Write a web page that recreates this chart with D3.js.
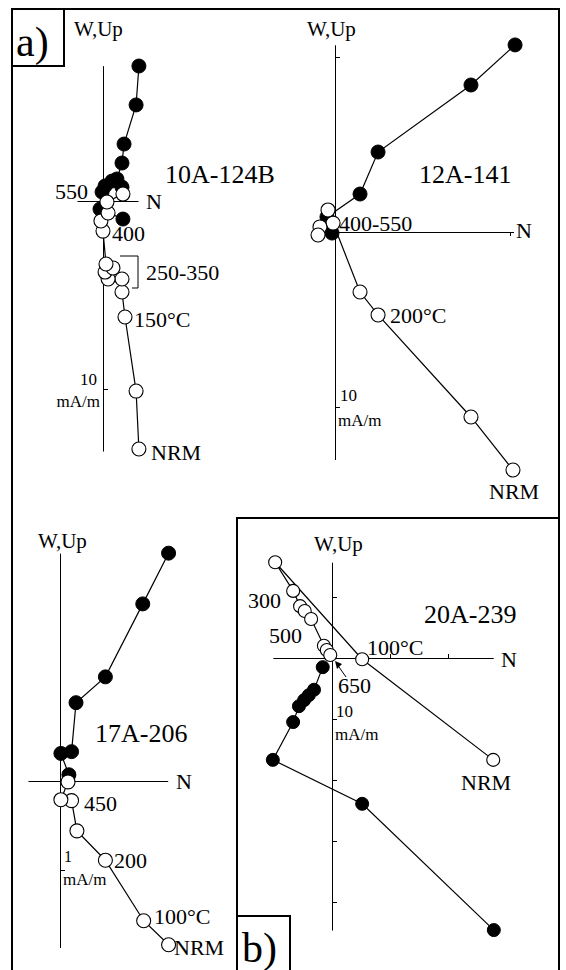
<!DOCTYPE html>
<html>
<head>
<meta charset="utf-8">
<script src="https://d3js.org/d3.v7.min.js"></script>
<style>
  body {margin: 0; background: #fff;}
  svg text {font-family: "Liberation Serif", "DejaVu Serif", serif; fill: #000;}
  .axis path, .axis line {stroke: #000; stroke-width: 1;}
</style>
</head>
<body>
<svg id="fig" width="566" height="970"></svg>
<script>
// ---- data (units: mA/m, x = N, y = W/Up) ----
// 10A-124B
var s1Solid = [[1.91,7.18],[1.76,5.11],[1.12,3.03],[1.01,2.02],[0.74,1.17],[0.48,1.06],[1.01,0.74],[0.11,0.80],[-0.05,0.48],[-0.16,-0.43],[1.06,-0.96]];
var s1Open  = [[1.91,-13.19],[1.76,-10.11],[1.17,-6.17],[1.01,-4.84],[1.01,-4.15],[0.27,-4.15],[0.11,-3.78],[0.53,-3.56],[0.16,-3.35],[0.0,-1.60],[-0.11,-1.06],[0.27,-0.64],[0.21,-0.05],[1.06,0.37]];
// 12A-141
var s2Solid = [[10.29,10.69],[7.77,8.40],[2.46,4.57],[1.43,2.17],[-0.46,0.86],[-0.17,-0.06]];
var s2Open  = [[10.17,-13.60],[7.77,-10.57],[2.46,-4.74],[1.43,-3.43],[-0.11,0.51],[-0.40,1.26],[-0.86,0.29],[-0.97,-0.17]];
// 17A-206
var s3Solid = [[1.22,2.56],[0.93,1.99],[0.51,1.17],[0.18,0.88],[0.13,0.33],[0.01,0.31],[0.10,0.07]];
var s3Open  = [[1.22,-1.84],[0.94,-1.57],[0.51,-0.89],[0.19,-0.56],[0.13,-0.22],[0.01,-0.21],[0.09,-0.01]];
// 20A-239
var s4Solid = [[27.9,-44.6],[5.2,-23.9],[-10.2,-16.7],[-6.7,-10.5],[-5.7,-7.9],[-4.8,-6.9],[-4.0,-6.1],[-3.1,-5.2],[-1.6,-1.5]];
var s4Open  = [[27.8,-16.7],[5.2,-0.2],[-9.8,15.7],[-6.7,11.0],[-5.5,8.5],[-4.7,7.7],[-3.6,6.4],[-1.4,2.0],[-0.9,1.3],[-0.3,0.5]];

var sampleNames = ["10A-124B", "12A-141", "17A-206", "20A-239"];
var scaleLabels = ["10", "10", "1", "10"];

var svg = d3.select("#fig");

// frames
var frame = svg.append("g").attr("fill", "none").attr("stroke", "#000").attr("stroke-width", 2);
frame.append("path").attr("d", "M12,970V9H559V970");
frame.append("rect").attr("x", 12).attr("y", 9).attr("width", 52).attr("height", 57);
frame.append("path").attr("d", "M237,970V518H559");
frame.append("rect").attr("x", 237).attr("y", 916).attr("width", 53).attr("height", 60);
svg.append("text").attr("x", 16).attr("y", 56).attr("font-size", 42).text("a)");
svg.append("text").attr("x", 242).attr("y", 962).attr("font-size", 42).text("b)");

function plot(cfg) {
  var x = d3.scaleLinear().domain(cfg.xr)
      .range([cfg.ox + cfg.xr[0] * cfg.kx, cfg.ox + cfg.xr[1] * cfg.kx]);
  var y = d3.scaleLinear().domain(cfg.yr)
      .range([cfg.oy - cfg.yr[0] * cfg.ky, cfg.oy - cfg.yr[1] * cfg.ky]);
  var g = svg.append("g");

  g.append("g").attr("class", "axis")
      .attr("transform", "translate(" + x(0) + ",0)")
      .call(d3.axisRight(y).tickValues(cfg.yTicks).tickSize(5).tickSizeOuter(0).tickFormat(""));
  var hx = (cfg.hTop ? d3.axisTop(x) : d3.axisBottom(x));
  g.append("g").attr("class", "axis")
      .attr("transform", "translate(0," + y(0) + ")")
      .call(hx.tickValues(cfg.xTicks).tickSize(4).tickSizeOuter(0).tickFormat(""));
  g.selectAll(".axis text").remove();

  var line = d3.line().x(function(d) { return x(d[0]); }).y(function(d) { return y(d[1]); });
  [cfg.solid, cfg.open].forEach(function(s) {
    g.append("path").attr("d", line(s)).attr("fill", "none").attr("stroke", "#000").attr("stroke-width", 1.2);
  });
  g.selectAll(".sd").data(cfg.solid).enter().append("circle")
      .attr("cx", function(d) { return x(d[0]); }).attr("cy", function(d) { return y(d[1]); })
      .attr("r", cfg.r).attr("fill", "#000").attr("stroke", "#000");
  g.selectAll(".op").data(cfg.open).enter().append("circle")
      .attr("cx", function(d) { return x(d[0]); }).attr("cy", function(d) { return y(d[1]); })
      .attr("r", cfg.r).attr("fill", "#fff").attr("stroke", "#000").attr("stroke-width", 1.1);

  cfg.labels.forEach(function(l) {
    g.append("text").attr("x", l[1]).attr("y", l[2]).attr("font-size", l[3])
      .attr("text-anchor", l[4] || "start").text(l[0]);
  });
  return {g: g, x: x, y: y};
}

// 10A-124B
var p1 = plot({ox: 103, oy: 201, kx: 18.8, ky: 18.8, xr: [-1.38, 1.86], yr: [-13.3, 7.2],
  yTicks: [-10], xTicks: [], r: 7, solid: s1Solid, open: s1Open,
  labels: [["W,Up", 74, 36, 21], [sampleNames[0], 165, 183, 26], ["550", 88, 199, 22, "end"],
    ["N", 146, 209, 22], ["400", 112, 241, 22], ["250-350", 146, 280, 22], ["150°C", 134, 327, 22],
    [scaleLabels[0], 97, 385, 17, "end"], ["mA/m", 100, 407, 17, "end"], ["NRM", 151, 460, 22]]});
p1.g.append("path").attr("d", "M120,256H138V288H132").attr("fill", "none").attr("stroke", "#000");

// 12A-141
plot({ox: 335, oy: 232, kx: 17.5, ky: 17.5, xr: [-0.5, 10.2], yr: [-13.0, 10.7],
  yTicks: [10, -10], xTicks: [10], r: 7, solid: s2Solid, open: s2Open,
  labels: [["W,Up", 307, 36, 21], [sampleNames[1], 419, 183, 26], ["400-550", 339, 231, 22],
    ["N", 516, 238, 22], ["200°C", 390, 323, 22], [scaleLabels[1], 340, 401, 17],
    ["mA/m", 338, 426, 17], ["NRM", 489, 499, 22]]});

// 17A-206
plot({ox: 60, oy: 781, kx: 89, ky: 89, xr: [-0.36, 1.21], yr: [-1.87, 2.56],
  yTicks: [-1], xTicks: [], r: 7, solid: s3Solid, open: s3Open,
  labels: [["W,Up", 38, 548, 21], [sampleNames[2], 95, 742, 26], ["N", 176, 789, 22],
    ["450", 84, 811, 22], [scaleLabels[2], 64, 862, 16], ["mA/m", 63, 885, 17],
    ["200", 114, 868, 22], ["100°C", 154, 924, 22], ["NRM", 174, 955, 22]]});

// 20A-239
var p4 = plot({ox: 332, oy: 658, kx: 5.8, ky: 6.1, xr: [-10.2, 27.8], yr: [-44.6, 15.7],
  yTicks: [10, -10, -20, -30, -40], xTicks: [10, 20], hTop: true, r: 6.5, solid: s4Solid, open: s4Open,
  labels: [["W,Up", 314, 551, 21], [sampleNames[3], 424, 623, 26], ["100°C", 367, 655, 22],
    ["N", 501, 667, 22], ["300", 248, 608, 22], ["500", 269, 643, 22], ["650", 338, 693, 22],
    [scaleLabels[3], 336, 717, 17], ["mA/m", 335, 740, 17], ["NRM", 461, 790, 22]]});
p4.g.append("path").attr("d", "M346,677L339,667").attr("stroke", "#000");
p4.g.append("path").attr("d", "M335,661L342,664L337,669Z").attr("fill", "#000");
</script>
</body>
</html>
